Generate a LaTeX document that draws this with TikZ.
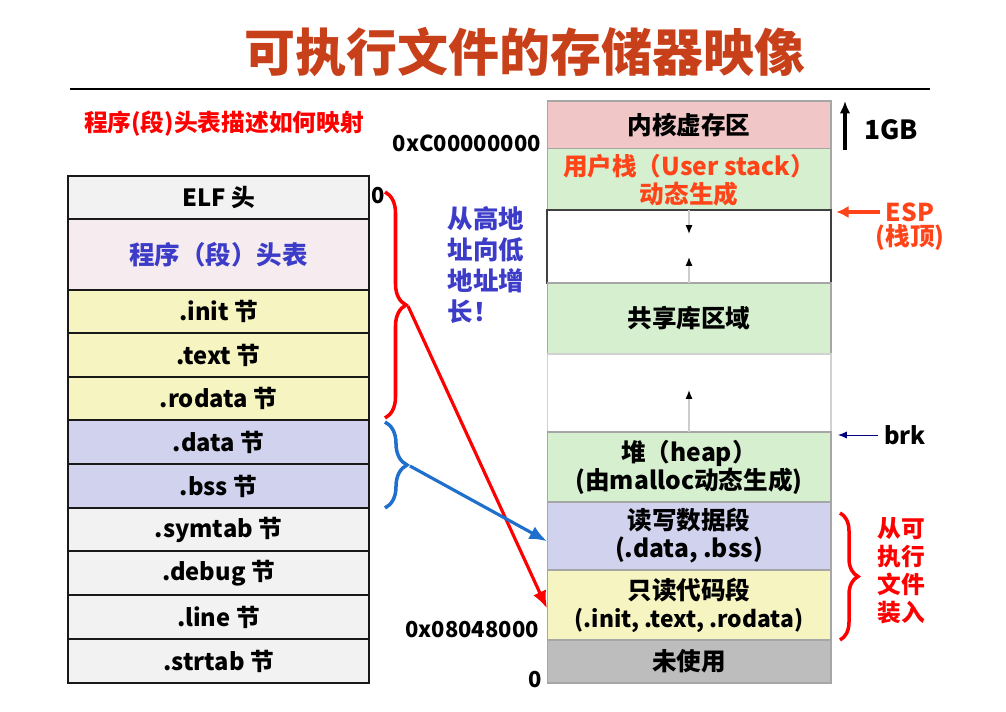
\documentclass[tikz,border=0pt]{standalone}
\usepackage{fontspec}
\setmainfont{Noto Sans CJK SC}
\usetikzlibrary{arrows.meta,decorations.pathreplacing}

\definecolor{titlered}{HTML}{C8401A}
\definecolor{espred}{HTML}{FF4419}
\definecolor{txtblue}{HTML}{3C3CC8}
\definecolor{arrblue}{HTML}{1F6FCC}
\definecolor{elfgray}{HTML}{F2F2F2}
\definecolor{phpink}{HTML}{F6ECEF}
\definecolor{codeyel}{HTML}{F6F4C0}
\definecolor{datablue}{HTML}{D0D2EE}
\definecolor{kernpink}{HTML}{F0C6C6}
\definecolor{memgreen}{HTML}{D5EFCF}
\definecolor{unusedgray}{HTML}{BDBDBD}

\tikzset{
  sect/.style={draw=black!90, line width=1.4pt, minimum width=6.02cm, outer sep=0pt,
    font=\bfseries\fontsize{13.5}{16}\selectfont},
  seg/.style={draw=black!35, line width=0.6pt, minimum width=5.68cm, outer sep=0pt,
    align=center, font=\bfseries\fontsize{14}{16}\selectfont},
  lbl/.style={font=\bfseries\fontsize{12.5}{14}\selectfont},
  bracer/.style={decorate, decoration={brace, amplitude=#1}, line width=2pt},
  growarr/.style={gray!40, line width=0.8pt, -{Latex[black,length=5pt,width=4pt]}}
}

\begin{document}
\begin{tikzpicture}[x=0.02cm,y=-0.02cm]
\useasboundingbox (0,0) rectangle (1006,712);
% title
\node[font=\bfseries\fontsize{29}{32}\selectfont, text=titlered] (title) at (525,52) {可执行文件的存储器映像};
\draw[line width=0.9pt] (70,89) -- (930,89);
\node[font=\bfseries\fontsize{13.5}{14}\selectfont, text=red] (note) at (224,124) {程序(段)头表描述如何映射};
% ELF file sections
\node[sect, fill=elfgray, minimum height=0.86cm] (elf) at (218.5,197.5) {ELF 头};
\node[sect, fill=phpink, minimum height=1.42cm, text=txtblue, font=\bfseries\fontsize{14.5}{16}\selectfont] (phdr) at (218.5,254.5) {程序（段）头表};
\node[sect, fill=codeyel, minimum height=0.86cm] (init) at (218.5,311.5) {.init 节};
\node[sect, fill=codeyel, minimum height=0.88cm] (text) at (218.5,355) {.text 节};
\node[sect, fill=codeyel, minimum height=0.86cm] (rodata) at (218.5,398.5) {.rodata 节};
\node[sect, fill=datablue, minimum height=0.88cm] (data) at (218.5,442) {.data 节};
\node[sect, fill=datablue, minimum height=0.88cm] (bss) at (218.5,486) {.bss 节};
\node[sect, fill=elfgray, minimum height=0.86cm] (symtab) at (218.5,529.5) {.symtab 节};
\node[sect, fill=elfgray, minimum height=0.88cm] (debug) at (218.5,573) {.debug 节};
\node[sect, fill=elfgray, minimum height=0.88cm] (line) at (218.5,617) {.line 节};
\node[sect, fill=elfgray, minimum height=0.88cm] (strtab) at (218.5,661) {.strtab 节};
\node[lbl] (zerofile) at (378,196) {0};
% memory image
\node[seg, fill=kernpink, minimum height=0.98cm] (kernel) at (689,125.5) {内核虚存区};
\node[seg, fill=memgreen, minimum height=1.2cm, text=espred] (ustack) at (689,180) {用户栈（User stack）\\动态生成};
\node[seg, draw=black!75, line width=0.9pt, fill=white, minimum height=1.46cm] (gapa) at (689,246.5) {};
\node[seg, fill=memgreen, minimum height=1.42cm] (shlib) at (689,318.5) {共享库区域};
\node[seg, draw=black!18, fill=white, minimum height=1.56cm] (gapb) at (689,393) {};
\node[seg, fill=memgreen, minimum height=1.4cm] (heap) at (689,467) {堆（heap）\\(由malloc动态生成)};
\node[seg, fill=datablue, minimum height=1.36cm] (rw) at (689,536) {读写数据段\\(.data, .bss)};
\node[seg, fill=codeyel, minimum height=1.4cm] (ro) at (689,605) {只读代码段\\{\fontsize{13}{16}\selectfont(.init, .text, .rodata)}};
\node[seg, fill=unusedgray, minimum height=0.86cm] (unused) at (689,661.5) {未使用};
% addresses
\node[lbl, anchor=east] (kaddr) at (547,143) {0xC00000000};
\node[lbl, anchor=east] (caddr) at (545,630) {0x08048000};
\node[lbl] (zeromem) at (535,680) {0};
% growth arrows
\draw[growarr] (gapa.north) -- ++(0,24);
\draw[growarr] (gapa.south) -- ++(0,-26);
\draw[growarr] (gapb.south) -- ++(0,-42);
% right side labels
\node[font=\bfseries\fontsize{15}{16}\selectfont, anchor=west] (gb) at (858,130) {1GB};
\draw[line width=1.8pt, -{Latex[length=7pt,width=6pt]}] ([xshift=0.28cm]kernel.south east) -- ([xshift=0.28cm]kernel.north east);
\node[font=\bfseries\fontsize{14}{16}\selectfont, text=espred] (esp) at (910,212) {ESP};
\node[font=\bfseries\fontsize{14}{16}\selectfont, text=espred] (espnote) at (910,238) {(栈顶)};
\draw[espred, line width=1.8pt, -{Latex[length=7pt,width=7pt]}, shorten >=3pt] (esp.west) -- (esp.west -| ustack.east);
\node[font=\bfseries\fontsize{13.5}{16}\selectfont] (brk) at (905,435) {brk};
\draw[blue!50!black, line width=0.5pt, -{Latex[length=5pt,width=4pt]}, shorten >=4pt] (brk.west) -- (brk.west -| heap.east);
% mapping braces and arrows
\coordinate (rtop) at (385,192);
\coordinate (rbot) at (385,418);
\coordinate (rtip) at (408,306);
\coordinate (btop) at (385,422);
\coordinate (bbot) at (385,508);
\coordinate (btip) at (410,466);
\draw[red, bracer=0.42cm] (rtop) -- (rbot);
\draw[arrblue, bracer=0.44cm] (btop) -- (bbot);
\draw[red, line width=1.8pt, -{Latex[length=10pt,width=8pt]}] (rtip) -- ([yshift=-2pt]ro.west);
\draw[arrblue, line width=1.8pt, -{Latex[length=10pt,width=8pt]}] (btip) -- ([yshift=-3pt]rw.west);
\node[font=\bfseries\fontsize{14.5}{17.5}\selectfont, text=txtblue, align=left] (grow) at (486,265) {从高地\\址向低\\地址增\\长！};
% loaded from file
\coordinate (ltop) at (840,513);
\coordinate (lbot) at (840,640);
\draw[red, bracer=0.36cm] (ltop) -- (lbot);
\node[font=\bfseries\fontsize{13.5}{16}\selectfont, text=red, align=center] (load) at (901,571) {从可\\执行\\文件\\装入};
\end{tikzpicture}
\end{document}
